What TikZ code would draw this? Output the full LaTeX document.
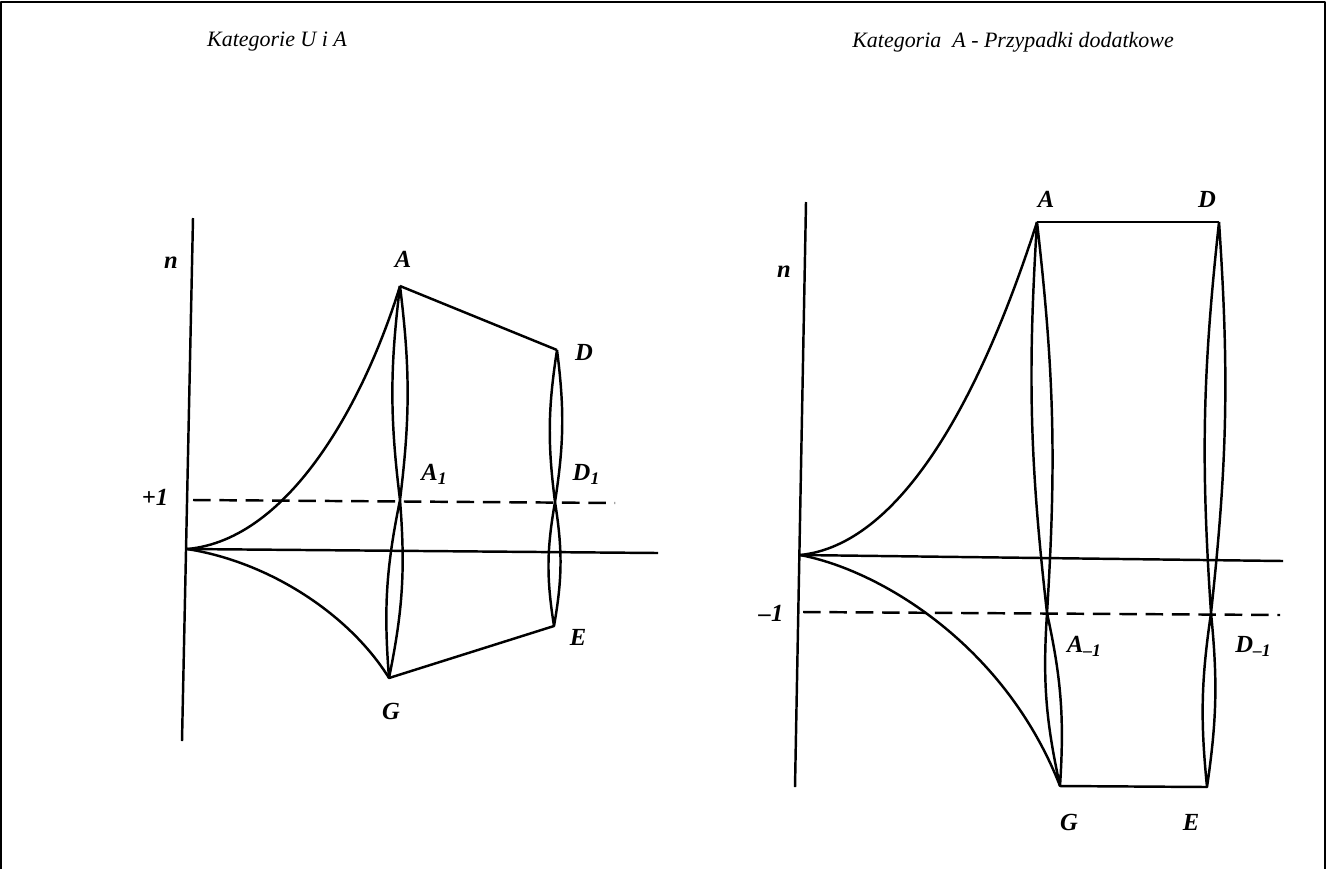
\documentclass[tikz,border=0pt]{standalone}
\usepackage{fontspec}
\setmainfont{Liberation Serif}
\newcommand{\lsub}[1]{\raisebox{-0.35ex}{\fontsize{10}{12}\selectfont#1}}
\tikzset{
  lbl/.style={font=\bfseries\itshape\fontsize{14}{16}\selectfont},
  ttl/.style={font=\itshape\fontsize{12.5}{15}\selectfont},
  dsh/.style={dash pattern=on 10pt off 5pt},
}
\begin{document}
\begin{tikzpicture}[x=0.02cm,y=-0.02cm,line width=1.4pt,line join=round]
    \useasboundingbox (0,0) rectangle (1327,869);
    \draw[line width=0.8pt] (1,869) -- (1,2) -- (1325,2) -- (1325,869);

    %%% Kategorie U i A
    \node[ttl] (t1) at (277,42) {Kategorie U i A};
    \coordinate (O1) at (187,549);
    \coordinate (ax1t) at (193,218);
    \coordinate (ax1b) at (182,741);
    \coordinate (h1) at (658,553);
    \coordinate (d1a) at (193,500);
    \coordinate (d1b) at (615,503);
    \coordinate (A) at (400,286);
    \coordinate (A1) at (400,500);
    \coordinate (G) at (389,678);
    \coordinate (D) at (557,350);
    \coordinate (D1) at (555,502);
    \coordinate (E) at (554,626);
    \draw (ax1t) -- (ax1b);
    \draw (O1) -- (h1);
    \draw[dsh] (d1a) -- (d1b);
    \draw (O1) .. controls (290,540) and (365,400) .. (A);
    \draw (O1) .. controls (270,562) and (350,615) .. (G);
    \draw (A) -- (D);
    \draw (G) -- (E);
    \draw (A) to[bend left=7] (A1) to[bend left=7] (A);
    \draw (A1) to[bend left=8] (G) to[bend left=8] (A1);
    \draw (D) to[bend left=8] (D1) to[bend left=8] (D);
    \draw (D1) to[bend left=9.5] (E) to[bend left=9.5] (D1);
    \node[lbl] (n1) at (171,263) {n};
    \node[lbl] (p1) at (155,497) {+1};
    \node[lbl] (lA) at (403,259) {A};
    \node[lbl] (lA1) at (434,474) {A\lsub{1}};
    \node[lbl] (lG) at (391,711) {G};
    \node[lbl] (lD) at (584,352) {D};
    \node[lbl] (lD1) at (586,474) {D\lsub{1}};
    \node[lbl] (lE) at (578,637) {E};

    %%% Kategoria A - Przypadki dodatkowe
    \node[ttl] (t2) at (1013,42) {Kategoria \ A - Przypadki dodatkowe};
    \coordinate (O2) at (800,555);
    \coordinate (ax2t) at (806,202);
    \coordinate (ax2b) at (795,787);
    \coordinate (h2) at (1283,561);
    \coordinate (d2a) at (803,612);
    \coordinate (d2b) at (1280,615);
    \coordinate (B) at (1037,222);
    \coordinate (B1) at (1047,613);
    \coordinate (H) at (1060,786);
    \coordinate (F) at (1219,222);
    \coordinate (F1) at (1211,613);
    \coordinate (K) at (1207,787);
    \draw (ax2t) -- (ax2b);
    \draw (O2) -- (h2);
    \draw[dsh] (d2a) -- (d2b);
    \draw (O2) .. controls (900,545) and (980,400) .. (B);
    \draw (O2) .. controls (880,570) and (1005,645) .. (H);
    \draw (B) -- (F);
    \draw (H) -- (K);
    \draw (B) to[bend left=5] (B1) to[bend left=5] (B);
    \draw (B1) to[bend left=8] (H) to[bend left=8] (B1);
    \draw (F) to[bend left=5] (F1) to[bend left=5] (F);
    \draw (F1) to[bend left=7] (K) to[bend left=7] (F1);
    \node[lbl] (n2) at (784,272) {n};
    \node[lbl] (m1) at (771,613) {--1};
    \node[lbl] (lB) at (1046,199) {A};
    \node[lbl] (lB1) at (1084,646) {A\lsub{--1}};
    \node[lbl] (lH) at (1069,822) {G};
    \node[lbl] (lF) at (1207,199) {D};
    \node[lbl] (lF1) at (1253,646) {D\lsub{--1}};
    \node[lbl] (lK) at (1191,822) {E};
\end{tikzpicture}
\end{document}
